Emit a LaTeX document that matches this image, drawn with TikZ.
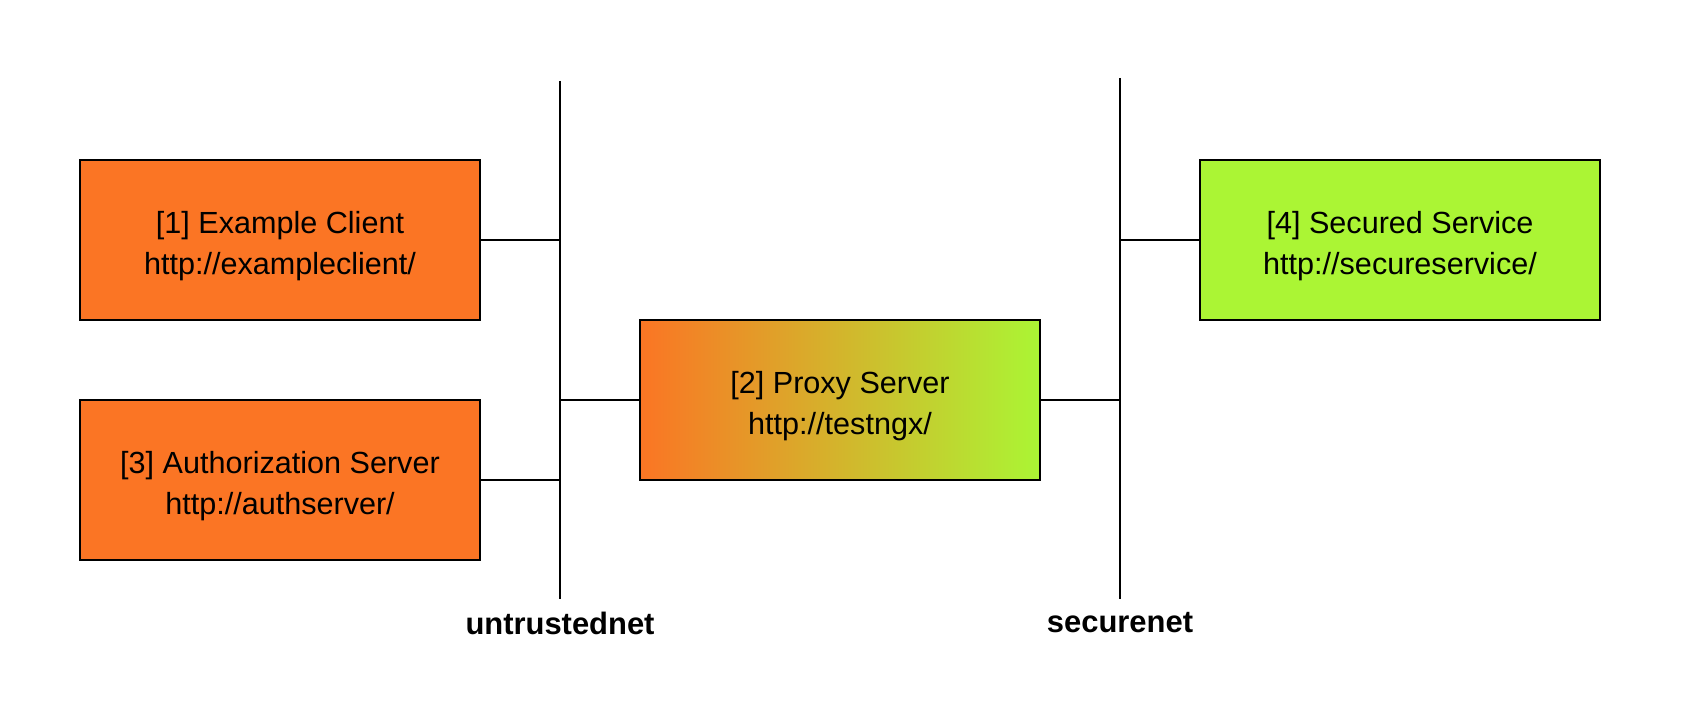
\documentclass[tikz,border=0pt]{standalone}
\usepackage{fontspec}
\setmainfont{Liberation Sans}
\usepackage{tikz}
\usetikzlibrary{positioning}

\definecolor{hostorange}{RGB}{251,117,36}
\definecolor{hostgreen}{RGB}{171,245,52}

\newcommand{\hosttext}[2]{\rule{0pt}{20pt}#1\\#2}

\tikzset{
    host/.style={draw=black, line width=1.1pt, minimum width=8cm, minimum height=3.2cm,
        align=center, font=\fontsize{17.4}{23.3}\selectfont, inner sep=0pt},
    netlabel/.style={font=\fontsize{17.6}{21}\selectfont\bfseries, inner sep=0pt},
    wire/.style={line width=0.8pt}
}

\begin{document}
\begin{tikzpicture}[x=0.2mm, y=-0.2mm]
    \useasboundingbox (0,0) rectangle (1686,720);

    % hosts
    \node[host, fill=hostorange] (client) at (280,240) {\hosttext{[1] Example Client}{http://exampleclient/}};
    \node[host, fill=hostorange] (auth) at (280,480) {\hosttext{[3] Authorization Server}{http://authserver/}};
    \node[host, left color=hostorange, right color=hostgreen] (proxy) at (840,400) {\hosttext{[2] Proxy Server}{http://testngx/}};
    \node[host, fill=hostgreen] (service) at (1400,240) {\hosttext{[4] Secured Service}{http://secureservice/}};

    % networks
    \coordinate (untop) at (560,81);
    \coordinate (unbot) at (560,599);
    \coordinate (setop) at (1120,78);
    \coordinate (sebot) at (1120,599);
    \draw[wire] (untop) -- (unbot);
    \draw[wire] (setop) -- (sebot);
    \node[netlabel] (untrusted) at (560,623) {untrustednet};
    \node[netlabel] (secure) at (1120,623) {securenet};

    % links
    \draw[wire] (client.east) -- (client.east -| untop);
    \draw[wire] (auth.east) -- (auth.east -| untop);
    \draw[wire] (proxy.west) -- (proxy.west -| untop);
    \draw[wire] (proxy.east) -- (proxy.east -| setop);
    \draw[wire] (service.west) -- (service.west -| setop);
\end{tikzpicture}
\end{document}
